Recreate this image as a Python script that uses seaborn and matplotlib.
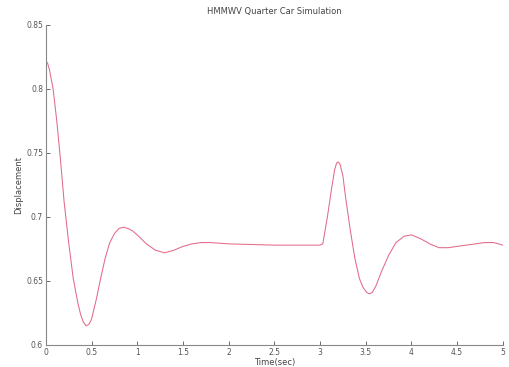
import numpy as np
import pandas as pd
import matplotlib
matplotlib.use('Agg')
import matplotlib.pyplot as plt
import seaborn as sns

# values
time_sec = [0.00, 0.02, 0.04, 0.08, 0.12, 0.16, 0.20, 0.25, 0.30, 0.35, 0.38,
            0.41, 0.44, 0.47, 0.50, 0.55, 0.60, 0.65, 0.70, 0.75, 0.80, 0.85, 0.90,
            0.95, 1.00, 1.10, 1.20, 1.30, 1.40, 1.50, 1.60, 1.70, 1.80,
            2.00, 2.50, 3.00, 3.03, 3.08, 3.13, 3.16, 3.18, 3.20, 3.22, 3.25, 3.28,
            3.33, 3.38, 3.43, 3.47, 3.51, 3.54, 3.57, 3.61, 3.67, 3.75, 3.83, 3.92,
            4.00, 4.10, 4.20, 4.30, 4.40, 4.50, 4.60, 4.70, 4.80, 4.90,
            5.00]
displacement = [0.822, 0.820, 0.815, 0.800, 0.775, 0.745, 0.712, 0.680, 0.652, 0.633, 0.624,
                0.618, 0.615, 0.616, 0.620, 0.635, 0.652, 0.668, 0.680, 0.687, 0.691, 0.692, 0.691,
                0.689, 0.686, 0.679, 0.674, 0.672, 0.674, 0.677, 0.679, 0.680, 0.680,
                0.679, 0.678, 0.678, 0.679, 0.700, 0.724, 0.737, 0.742, 0.743, 0.741, 0.732, 0.715,
                0.690, 0.668, 0.652, 0.645, 0.641, 0.640, 0.641, 0.646, 0.657, 0.670, 0.680, 0.685,
                0.686, 0.683, 0.679, 0.676, 0.676, 0.677, 0.678, 0.679, 0.680, 0.680,
                0.678]
x_ticks = [0, 0.5, 1, 1.5, 2, 2.5, 3, 3.5, 4, 4.5, 5]
x_tick_labels = ['0', '0.5', '1', '1.5', '2', '2.5', '3', '3.5', '4', '4.5', '5']
y_ticks = [0.6, 0.65, 0.7, 0.75, 0.8, 0.85]
y_tick_labels = ['0.6', '0.65', '0.7', '0.75', '0.8', '0.85']

sns.set_style('ticks')
plt.rcParams['font.family'] = ['DejaVu Sans']

df = pd.DataFrame({'t': time_sec, 'y': displacement})

fig = plt.figure(figsize=(5.09, 3.67), dpi=100)
ax = fig.add_axes([0.090, 0.060, 0.898, 0.872])
sns.lineplot(data=df, x='t', y='y', ax=ax, color='#e26a88', linewidth=0.75)

ax.set_xlim(0, 5)
ax.set_ylim(0.6, 0.85)
ax.set_xticks(x_ticks)
ax.set_xticklabels(x_tick_labels)
ax.set_yticks(y_ticks)
ax.set_yticklabels(y_tick_labels)
ax.tick_params(direction='in', length=3, width=0.6, labelsize=5.5,
               colors='#555555', pad=2)
for side in ['top', 'right']:
    ax.spines[side].set_visible(False)
for side in ['left', 'bottom']:
    ax.spines[side].set_color('#888888')
    ax.spines[side].set_linewidth(0.8)

ax.set_title('HMMWV Quarter Car Simulation', fontsize=6, color='#444444', pad=8)
ax.set_xlabel('Time(sec)', fontsize=6, color='#444444', labelpad=1)
ax.set_ylabel('Displacement', fontsize=6, color='#444444', labelpad=2)

fig.savefig('out.png', dpi=100)
